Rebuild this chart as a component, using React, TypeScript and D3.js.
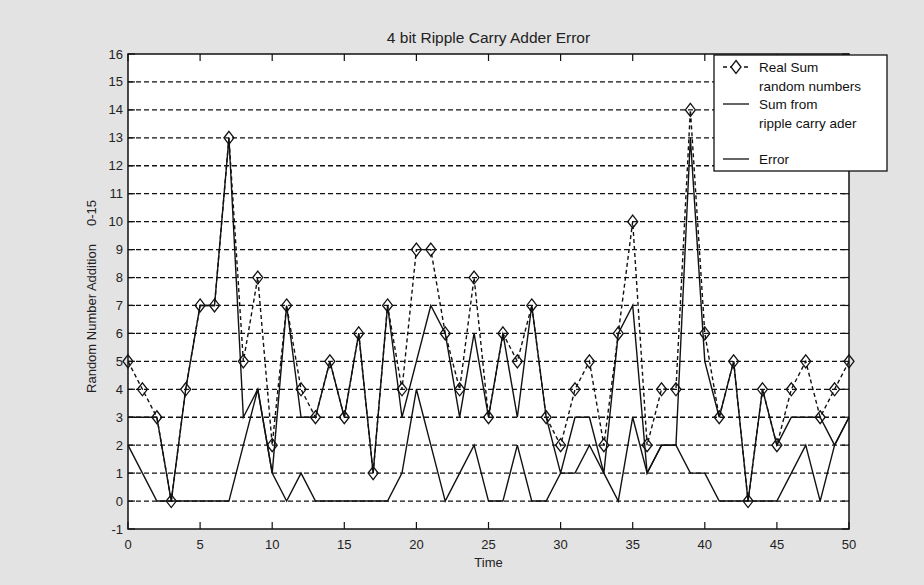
import React, { useEffect, useRef } from 'react';
import * as d3 from 'd3';

// values, one per time step 0..50
const times: number[] = d3.range(0, 51);
const realSum: number[] = [5, 4, 3, 0, 4, 7, 7, 13, 5, 8, 2, 7, 4, 3, 5, 3, 6, 1, 7, 4, 9, 9, 6, 4, 8, 3, 6, 5, 7, 3, 2, 4, 5, 2, 6, 10, 2, 4, 4, 14, 6, 3, 5, 0, 4, 2, 4, 5, 3, 4, 5];
const adderSum: number[] = [3, 3, 3, 0, 4, 7, 7, 13, 3, 4, 1, 7, 3, 3, 5, 3, 6, 1, 7, 3, 5, 7, 6, 3, 6, 3, 6, 3, 7, 3, 1, 3, 3, 1, 6, 7, 1, 2, 2, 13, 5, 3, 5, 0, 4, 2, 3, 3, 3, 2, 3];
const errorVals: number[] = [2, 1, 0, 0, 0, 0, 0, 0, 2, 4, 1, 0, 1, 0, 0, 0, 0, 0, 0, 1, 4, 2, 0, 1, 2, 0, 0, 2, 0, 0, 1, 1, 2, 1, 0, 3, 1, 2, 2, 1, 1, 0, 0, 0, 0, 0, 1, 2, 0, 2, 3];

const xTicks: number[] = [0, 5, 10, 15, 20, 25, 30, 35, 40, 45, 50];
const yTicks: number[] = d3.range(-1, 17);
const legendLabels: string[][] = [['Real Sum', 'random numbers'], ['Sum from', 'ripple carry ader'], ['Error']];

const W = 924;
const H = 585;
const FONT = '"Liberation Sans", Arial, sans-serif';

const App: React.FC = () => {
  const svgRef = useRef<SVGSVGElement>(null);

  useEffect(() => {
    document.body.style.margin = '0';
    if (!svgRef.current) return;
    const svg = d3.select(svgRef.current);
    svg.selectAll('*').remove();

    const x = d3.scaleLinear().domain([0, 50]).range([128, 849]);
    const y = d3.scaleLinear().domain([-1, 16]).range([529, 54]);

    // figure background
    svg.append('rect').attr('width', W).attr('height', H).style('fill', '#e3e3e3');
    svg.append('rect')
      .attr('x', x(0)).attr('y', y(16))
      .attr('width', x(50) - x(0)).attr('height', y(-1) - y(16))
      .style('fill', '#fff');

    // horizontal dashed grid
    svg.append('g').selectAll('line')
      .data(yTicks.filter(v => v > -1 && v < 16))
      .enter().append('line')
      .attr('x1', x(0)).attr('x2', x(50))
      .attr('y1', d => y(d)).attr('y2', d => y(d))
      .style('stroke', '#111')
      .style('stroke-width', 1.3)
      .style('stroke-dasharray', '5,3');

    // ticks (inward, all sides)
    const tk = svg.append('g').style('stroke', '#111').style('stroke-width', 1.2);
    xTicks.forEach(t => {
      tk.append('line').attr('x1', x(t)).attr('x2', x(t)).attr('y1', y(-1)).attr('y2', y(-1) - 7);
      tk.append('line').attr('x1', x(t)).attr('x2', x(t)).attr('y1', y(16)).attr('y2', y(16) + 7);
    });
    yTicks.forEach(v => {
      tk.append('line').attr('x1', x(0)).attr('x2', x(0) + 7).attr('y1', y(v)).attr('y2', y(v));
      tk.append('line').attr('x1', x(50)).attr('x2', x(50) - 7).attr('y1', y(v)).attr('y2', y(v));
    });

    // tick labels
    svg.append('g').selectAll('text')
      .data(xTicks)
      .enter().append('text')
      .attr('x', d => x(d)).attr('y', y(-1) + 20)
      .style('text-anchor', 'middle')
      .style('font-family', FONT).style('font-size', '13px').style('fill', '#222')
      .text(d => String(d));
    svg.append('g').selectAll('text')
      .data(yTicks)
      .enter().append('text')
      .attr('x', x(0) - 5).attr('y', d => y(d)).attr('dy', '0.35em')
      .style('text-anchor', 'end')
      .style('font-family', FONT).style('font-size', '13px').style('fill', '#222')
      .text(d => String(d));

    const line = d3.line<number>().x((_, i) => x(times[i])).y(d => y(d));

    // error
    svg.append('path').datum(errorVals).attr('d', line)
      .style('fill', 'none').style('stroke', '#111').style('stroke-width', 1.4);
    // ripple carry adder sum
    svg.append('path').datum(adderSum).attr('d', line)
      .style('fill', 'none').style('stroke', '#111').style('stroke-width', 1.4);
    // real sum, dashed with diamonds
    svg.append('path').datum(realSum).attr('d', line)
      .style('fill', 'none').style('stroke', '#111').style('stroke-width', 1.4)
      .style('stroke-dasharray', '4,3');

    const diamond = (cx: number, cy: number) =>
      `M${cx},${cy - 6.5}L${cx + 5},${cy}L${cx},${cy + 6.5}L${cx - 5},${cy}Z`;

    svg.append('g').selectAll('path')
      .data(realSum)
      .enter().append('path')
      .attr('d', (d, i) => diamond(x(times[i]), y(d)))
      .style('fill', 'none').style('stroke', '#111').style('stroke-width', 1.3);

    // axes box
    svg.append('rect')
      .attr('x', x(0)).attr('y', y(16))
      .attr('width', x(50) - x(0)).attr('height', y(-1) - y(16))
      .style('fill', 'none').style('stroke', '#111').style('stroke-width', 1.5);

    // title and axis labels
    svg.append('text')
      .attr('x', (x(0) + x(50)) / 2).attr('y', 43)
      .style('text-anchor', 'middle')
      .style('font-family', FONT).style('font-size', '15.5px').style('fill', '#222')
      .text('4 bit Ripple Carry Adder Error');
    svg.append('text')
      .attr('x', (x(0) + x(50)) / 2).attr('y', 567)
      .style('text-anchor', 'middle')
      .style('font-family', FONT).style('font-size', '13px').style('fill', '#222')
      .text('Time');
    svg.append('text')
      .attr('transform', `translate(96,${(y(-1) + y(16)) / 2 + 5}) rotate(-90)`)
      .style('text-anchor', 'middle')
      .style('font-family', FONT).style('font-size', '13px').style('fill', '#222')
      .style('white-space', 'pre')
      .text('Random Number Addition     0-15');

    // legend
    const legend = svg.append('g');
    legend.append('rect')
      .attr('x', 714).attr('y', 55).attr('width', 173).attr('height', 116)
      .style('fill', '#fff').style('stroke', '#111').style('stroke-width', 1.3);

    const rowY = [67, 104, 159];
    legend.append('line').attr('x1', 723).attr('x2', 749).attr('y1', rowY[0]).attr('y2', rowY[0])
      .style('stroke', '#111').style('stroke-width', 1.3).style('stroke-dasharray', '4,3');
    legend.append('path').attr('d', diamond(736, rowY[0]))
      .style('fill', '#fff').style('stroke', '#111').style('stroke-width', 1.3);
    legend.append('line').attr('x1', 723).attr('x2', 749).attr('y1', rowY[1]).attr('y2', rowY[1])
      .style('stroke', '#111').style('stroke-width', 1.3);
    legend.append('line').attr('x1', 723).attr('x2', 749).attr('y1', rowY[2]).attr('y2', rowY[2])
      .style('stroke', '#111').style('stroke-width', 1.3);

    legendLabels.forEach((lines, k) => {
      lines.forEach((s, j) => {
        legend.append('text')
          .attr('x', 759).attr('y', rowY[k] + j * 19).attr('dy', '0.35em')
          .style('font-family', FONT).style('font-size', '13.5px').style('fill', '#111')
          .text(s);
      });
    });
  }, []);

  return (
    <div style={{ width: W, height: H }}>
      <svg ref={svgRef} width={W} height={H} style={{ display: 'block' }}></svg>
    </div>
  );
};

export default App;
